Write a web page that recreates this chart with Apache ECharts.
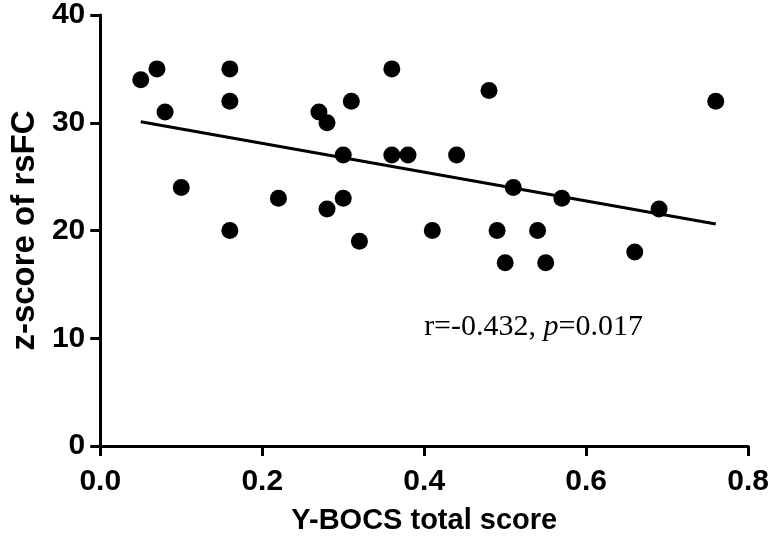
<!DOCTYPE html>
<html>
<head>
<meta charset="utf-8">
<script src="https://cdn.jsdelivr.net/npm/echarts@6/dist/echarts.min.js"></script>
<style>
    html, body { margin: 0; padding: 0; background: #fff; }
    #chartsmain { width: 772px; height: 547px; }
</style>
</head>
<body>
<div id="chartsmain"></div>
<script>
    // Y-BOCS total score vs z-score of rsFC
    var ybocs = [0.05, 0.07, 0.08, 0.10, 0.16, 0.16, 0.16, 0.22, 0.27, 0.28,
                 0.28, 0.30, 0.30, 0.31, 0.32, 0.36, 0.36, 0.38, 0.41, 0.44,
                 0.48, 0.49, 0.50, 0.51, 0.54, 0.55, 0.57, 0.66, 0.69, 0.76];
    var zscore = [34, 35, 31, 24, 35, 32, 20, 23, 31, 30,
                  22, 27, 23, 32, 19, 35, 27, 27, 20, 27,
                  33, 20, 17, 24, 20, 17, 23, 18, 22, 32];
    // regression line end points
    var fitX = [0.05, 0.76];
    var fitY = [30.1, 20.6];
    var xTicks = [0, 0.2, 0.4, 0.6, 0.8];
    var yTicks = [0, 10, 20, 30, 40];
    var statText = ['r=-0.432, ', 'p', '=0.017'];
    var statPos = [0.535, 11];

    var points = [];
    for (var i = 0; i < ybocs.length; i++) {
        points.push([ybocs[i], zscore[i]]);
    }
    var fitLine = [];
    for (var j = 0; j < fitX.length; j++) {
        fitLine.push([fitX[j], fitY[j]]);
    }

    var axisFont = 'Liberation Sans, Arial, sans-serif';
    var serifFont = 'Liberation Serif, Times New Roman, serif';
    var chart = echarts.init(document.getElementById('chartsmain'));

    var option = {
        animation: false,
        grid: { left: 97, right: 22, top: 13, bottom: 101 },
        xAxis: {
            type: 'value',
            min: xTicks[0],
            max: xTicks[xTicks.length - 1],
            interval: 0.2,
            name: 'Y-BOCS total score',
            nameLocation: 'middle',
            nameGap: 60,
            nameTextStyle: { color: '#000', fontSize: 29, fontWeight: 'bold', fontFamily: axisFont },
            axisLine: { lineStyle: { color: '#000', width: 3 } },
            axisTick: { length: 10, lineStyle: { color: '#000', width: 3 } },
            axisLabel: {
                color: '#000', fontSize: 30, fontWeight: 'bold', fontFamily: axisFont, margin: 21,
                formatter: function (v) { return v.toFixed(1); }
            },
            splitLine: { show: false }
        },
        yAxis: {
            type: 'value',
            min: yTicks[0],
            max: yTicks[yTicks.length - 1],
            interval: 10,
            name: 'z-score of rsFC',
            nameLocation: 'middle',
            nameGap: 55,
            nameTextStyle: { color: '#000', fontSize: 33, fontWeight: 'bold', fontFamily: axisFont },
            axisLine: { show: true, lineStyle: { color: '#000', width: 3 } },
            axisTick: { show: true, length: 10, lineStyle: { color: '#000', width: 3 } },
            axisLabel: { color: '#000', fontSize: 30, fontWeight: 'bold', fontFamily: axisFont, margin: 15 },
            splitLine: { show: false }
        },
        series: [
            {
                name: 'fit',
                type: 'line',
                data: fitLine,
                symbol: 'none',
                lineStyle: { color: '#000', width: 3 },
                z: 2
            },
            {
                name: 'subjects',
                type: 'scatter',
                data: points,
                symbol: 'circle',
                symbolSize: 17,
                itemStyle: { color: '#000', opacity: 1 },
                z: 3
            }
        ]
    };
    chart.setOption(option);

    var pos = chart.convertToPixel({ gridIndex: 0 }, statPos);
    chart.setOption({
        graphic: [{
            type: 'text',
            x: pos[0],
            y: pos[1],
            style: {
                text: '{n|' + statText[0] + '}{i|' + statText[1] + '}{n|' + statText[2] + '}',
                align: 'center',
                verticalAlign: 'middle',
                rich: {
                    n: { fontFamily: serifFont, fontSize: 30, color: '#000' },
                    i: { fontFamily: serifFont, fontSize: 30, fontStyle: 'italic', color: '#000' }
                }
            }
        }]
    });
</script>
</body>
</html>
